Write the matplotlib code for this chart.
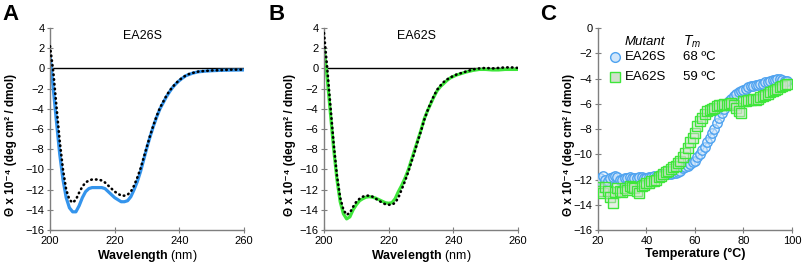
import matplotlib
matplotlib.use("Agg")
import matplotlib.pyplot as plt

plt.rcParams['font.family'] = ['Liberation Sans', 'DejaVu Sans']
plt.rcParams['mathtext.fontset'] = 'custom'
plt.rcParams['mathtext.rm'] = 'Liberation Sans'
plt.rcParams['mathtext.it'] = 'Liberation Sans:italic'
plt.rcParams['mathtext.bf'] = 'Liberation Sans:bold'

# ---- panel A / B: CD spectra ----
wl = [200, 201, 202, 203, 204, 205, 206, 207, 208, 209, 210, 211, 212, 213, 214,
      215, 216, 217, 218, 219, 220, 221, 222, 223, 224, 225, 226, 227, 228, 229,
      230, 231, 232, 233, 234, 235, 236, 237, 238, 239, 240, 241, 242, 243, 244,
      245, 246, 248, 250, 252, 254, 256, 258, 260]

ea26s = [1.2, -2.0, -5.3, -8.5, -11.0, -12.8, -13.8, -14.2, -14.2, -13.6, -12.8,
         -12.2, -11.9, -11.8, -11.8, -11.8, -11.8, -11.9, -12.2, -12.5, -12.8,
         -13.0, -13.2, -13.2, -13.1, -12.7, -12.0, -11.2, -10.2, -9.0, -7.8, -6.7,
         -5.7, -4.8, -4.0, -3.4, -2.8, -2.3, -1.85, -1.5, -1.2, -0.95, -0.72,
         -0.6, -0.48, -0.4, -0.33, -0.27, -0.23, -0.2, -0.18, -0.17, -0.16, -0.15]

ref_a = [2.2, -0.3, -3.8, -7.2, -10.0, -12.0, -13.0, -13.3, -13.0, -12.3, -11.7,
         -11.3, -11.1, -11.0, -11.0, -11.0, -11.1, -11.3, -11.6, -11.9, -12.2,
         -12.4, -12.6, -12.6, -12.5, -12.2, -11.6, -10.8, -9.9, -8.8, -7.7, -6.6,
         -5.6, -4.7, -3.9, -3.3, -2.7, -2.2, -1.8, -1.45, -1.15, -0.9, -0.7,
         -0.55, -0.45, -0.38, -0.3, -0.25, -0.2, -0.18, -0.15, -0.12, -0.12, -0.12]

ea62s = [2.0, -1.0, -4.5, -8.0, -11.0, -13.2, -14.4, -14.9, -14.7, -14.0, -13.5,
         -13.1, -12.9, -12.75, -12.7, -12.75, -12.85, -13.0, -13.15, -13.3, -13.35,
         -13.3, -12.9, -12.2, -11.6, -10.9, -10.1, -9.1, -8.1, -7.1, -6.1, -5.0,
         -4.2, -3.5, -2.8, -2.2, -1.8, -1.5, -1.2, -0.95, -0.8, -0.65, -0.55,
         -0.45, -0.35, -0.28, -0.2, -0.1, -0.1, -0.15, -0.15, -0.1, -0.1, -0.1]

ref_b = [3.5, 0.0, -3.8, -7.5, -10.6, -12.8, -14.0, -14.5, -14.3, -13.7, -13.2,
         -12.9, -12.7, -12.6, -12.6, -12.7, -12.9, -13.1, -13.3, -13.45, -13.5,
         -13.5, -13.3, -12.8, -12.0, -11.2, -10.3, -9.3, -8.3, -7.2, -6.2, -5.1,
         -4.2, -3.4, -2.7, -2.1, -1.7, -1.35, -1.1, -0.9, -0.75, -0.6, -0.5,
         -0.4, -0.3, -0.2, -0.1, 0.0, 0.05, 0.0, 0.05, 0.1, 0.1, 0.05]

# ---- panel C: thermal melts (one reading per degree, 20-98 C) ----
temp = list(range(20, 99))
melt_26 = [-12.0, -11.9, -11.7, -12.0, -12.1, -11.9, -11.8, -11.7, -11.8, -12.0,
           -12.0, -11.9, -11.9, -11.8, -11.9, -11.9, -11.9, -11.8, -11.8, -11.9,
           -11.9, -11.8, -11.8, -11.7, -11.8, -11.7, -11.6, -11.6, -11.6, -11.6,
           -11.6, -11.5, -11.5, -11.4, -11.3, -11.1, -11.0, -10.9, -10.8, -10.6,
           -10.5, -10.2, -10.0, -9.7, -9.4, -9.0, -8.7, -8.3, -8.0, -7.5,
           -7.1, -6.7, -6.4, -6.1, -5.8, -5.6, -5.4, -5.2, -5.1, -5.0,
           -4.9, -4.8, -4.7, -4.6, -4.6, -4.5, -4.5, -4.4, -4.4, -4.3,
           -4.3, -4.2, -4.1, -4.1, -4.0, -4.0, -4.1, -4.2, -4.2]
melt_62 = [-12.6, -12.9, -13.1, -12.6, -12.9, -13.4, -13.9, -13.0, -12.7, -12.9,
           -13.0, -12.7, -12.8, -12.5, -12.6, -12.7, -12.9, -13.1, -12.5, -12.4,
           -12.3, -12.3, -12.1, -12.1, -12.0, -11.8, -11.7, -11.6, -11.4, -11.3,
           -11.2, -11.0, -10.9, -10.7, -10.5, -10.2, -9.9, -9.5, -9.0, -8.7,
           -8.3, -7.8, -7.4, -7.1, -6.8, -6.6, -6.5, -6.4, -6.3, -6.2,
           -6.1, -6.1, -6.0, -6.1, -6.0, -5.9, -6.1, -6.3, -6.6, -6.7,
           -5.8, -5.8, -5.7, -5.7, -5.6, -5.7, -5.6, -5.5, -5.4, -5.3,
           -5.2, -5.1, -5.0, -4.9, -4.8, -4.7, -4.6, -4.5, -4.4]

blue = '#3494ec'
green = '#3ee63a'
spine_c = '#7f7f7f'
ylab = 'Θ x 10⁻⁴ (deg cm² / dmol)'

fig = plt.figure(figsize=(8.03, 2.64), dpi=100)


def style(ax, label_x):
    for s in ['top', 'right']:
        ax.spines[s].set_visible(False)
    for s in ['left', 'bottom']:
        ax.spines[s].set_color(spine_c)
        ax.spines[s].set_linewidth(1.0)
    ax.tick_params(direction='inout', length=4, width=0.8, color=spine_c,
                   labelsize=8, pad=2)
    ax.set_ylabel(ylab, fontsize=8.5, fontweight='bold')
    ax.yaxis.set_label_coords(label_x, 0.42)


def cd_panel(rect, mut, ref, col, name, letter, lx, label_x):
    ax = fig.add_axes(rect)
    ax.axhline(0, color='black', lw=1.0, zorder=1)
    ax.plot(wl, mut, color=col, lw=2.3, zorder=2)
    ax.plot(wl, ref, color='black', lw=1.9, ls=(0, (0.2, 1.6)),
            dash_capstyle='round', zorder=3)
    ax.set_xlim(200, 260)
    ax.set_ylim(-16, 4)
    ax.set_xticks([200, 220, 240, 260])
    ax.set_yticks(range(-16, 5, 2))
    style(ax, label_x)
    ax.set_xlabel(r'$\mathbf{Wavelength}$ (nm)', fontsize=9, labelpad=2)
    ax.text(228.5, 3.2, name, fontsize=9, ha='center', va='center')
    fig.text(lx, 0.985, letter, fontsize=16, fontweight='bold', va='top')
    return ax


cd_panel([0.0623, 0.1288, 0.2416, 0.765], ea26s, ref_a, blue, 'EA26S', 'A',
         0.003, -0.17)
cd_panel([0.4035, 0.1288, 0.2416, 0.765], ea62s, ref_b, green, 'EA62S', 'B',
         0.334, -0.145)

# panel C
ax = fig.add_axes([0.7447, 0.1288, 0.2416, 0.765])
ax.plot(temp, melt_26, color=blue, lw=0.8, zorder=2)
ax.plot(temp, melt_26, 'o', ms=6.8, mec='#4fa3f0', mfc=(0.82, 0.9, 0.98, 0.5),
        mew=1.0, zorder=3)
ax.plot(temp, melt_62, 's', ms=6.8, mec=green, mfc=(0.82, 0.88, 0.8, 0.5),
        mew=1.0, zorder=4)
ax.set_xlim(20, 100)
ax.set_ylim(-16, 0)
ax.set_xticks([20, 40, 60, 80, 100])
ax.set_yticks(range(-16, 1, 2))
style(ax, -0.12)
ax.set_xlabel('Temperature (°C)', fontsize=9, fontweight='bold', labelpad=2)
fig.text(0.673, 0.985, 'C', fontsize=16, fontweight='bold', va='top')

# legend drawn by hand
ax.text(31, -1.1, 'Mutant', fontsize=9.5, style='italic', va='center')
ax.text(55, -1.1, r'$T_m$', fontsize=10, va='center')
ax.plot([27], [-2.3], 'o', ms=7, mec='#4fa3f0', mfc=(0.82, 0.9, 0.98), mew=1.0)
ax.plot([27], [-3.9], 's', ms=7, mec=green, mfc=(0.82, 0.88, 0.8), mew=1.0)
ax.text(31, -2.3, 'EA26S', fontsize=9.5, va='center')
ax.text(31, -3.9, 'EA62S', fontsize=9.5, va='center')
ax.text(55, -2.3, '68 ºC', fontsize=9.5, va='center')
ax.text(55, -3.9, '59 ºC', fontsize=9.5, va='center')

fig.savefig('out.png', dpi=100)
